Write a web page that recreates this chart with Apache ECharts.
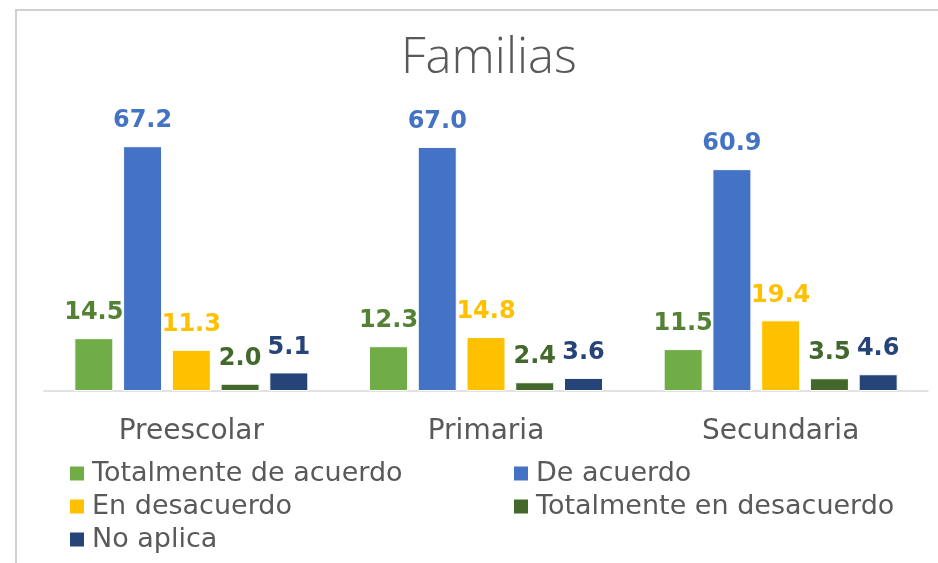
<!DOCTYPE html>
<html>
<head>
<meta charset="utf-8">
<script src="https://cdn.jsdelivr.net/npm/echarts@6/dist/echarts.min.js"></script>
<style>
	html, body { margin: 0; padding: 0; background: #fff; }
	#chart { width: 938px; height: 563px; }
</style>
</head>
<body>
<div id="chart"></div>
<script>
// data
const categories = ['Preescolar', 'Primaria', 'Secundaria'];
const seriesNames = ['Totalmente de acuerdo', 'De acuerdo', 'En desacuerdo', 'Totalmente en desacuerdo', 'No aplica'];
const totalmenteDeAcuerdo = [14.5, 12.3, 11.5];
const deAcuerdo = [67.2, 67.0, 60.9];
const enDesacuerdo = [11.3, 14.8, 19.4];
const totalmenteEnDesacuerdo = [2.0, 2.4, 3.5];
const noAplica = [5.1, 3.6, 4.6];

const barColors = ['#70ad47', '#4472c4', '#ffc000', '#43682b', '#264478'];
const labelColors = ['#548235', '#4472c4', '#ffc000', '#43682b', '#264478'];
const values = [totalmenteDeAcuerdo, deAcuerdo, enDesacuerdo, totalmenteEnDesacuerdo, noAplica];

const font = 'DejaVu Sans';

const chart = echarts.init(document.getElementById('chart'));

const series = seriesNames.map((name, i) => ({
	name: name,
	type: 'bar',
	barWidth: 39,
	barGap: '25%',
	data: values[i],
	itemStyle: {
		color: barColors[i],
		borderColor: '#fff',
		borderWidth: 1,
	},
	label: {
		show: true,
		position: 'top',
		distance: 13,
		color: labelColors[i],
		fontFamily: font,
		fontWeight: 'bold',
		fontSize: 24,
		formatter: (p) => p.value.toFixed(1),
	},
}));

const legendText = {
	color: '#595959',
	fontFamily: font,
	fontSize: 27,
	lineHeight: 27,
	padding: [0, 0, 0, 2],
};

chart.setOption({
	animation: false,
	title: {
		text: 'Familias',
		left: 396,
		top: 30,
		textStyle: {
			color: '#595959',
			fontFamily: 'Open Sans',
			fontWeight: 300,
			fontSize: 49,
		},
	},
	graphic: [
		{
			type: 'rect',
			shape: { x: 16, y: 10, width: 960, height: 600 },
			style: { fill: 'none', stroke: '#d0d0d0', lineWidth: 2 },
			silent: true,
		},
	],
	legend: [
		{
			orient: 'vertical',
			left: 63,
			top: 455,
			itemWidth: 16,
			itemHeight: 16,
			itemGap: 6,
			icon: 'rect',
			textStyle: legendText,
			data: [seriesNames[0], seriesNames[2], seriesNames[4]],
		},
		{
			orient: 'vertical',
			left: 507,
			top: 455,
			itemWidth: 16,
			itemHeight: 16,
			itemGap: 6,
			icon: 'rect',
			textStyle: legendText,
			data: [seriesNames[1], seriesNames[3]],
		},
	],
	grid: {
		left: 44,
		right: 10,
		top: 136,
		bottom: 172,
		containLabel: false,
	},
	xAxis: {
		type: 'category',
		data: categories,
		axisTick: { show: false },
		axisLine: { lineStyle: { color: '#d9d9d9', width: 1.5 } },
		axisLabel: {
			color: '#595959',
			fontFamily: font,
			fontSize: 28,
			margin: 27,
		},
	},
	yAxis: {
		type: 'value',
		min: 0,
		max: 70,
		show: false,
		splitLine: { show: false },
	},
	series: series,
});
</script>
</body>
</html>
